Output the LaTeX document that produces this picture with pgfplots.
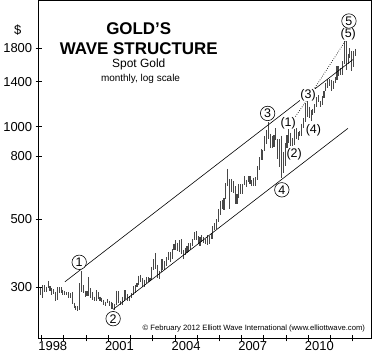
\documentclass[border=0pt]{standalone}
\usepackage{fontspec}
\setmainfont{Liberation Sans}
\usepackage{pgfplots}
\pgfplotsset{compat=1.18}
\usepackage{pgfplotstable}

\pgfplotstableread{
yr m lo hi
1997 12 283 298
1998 1 278 305
1998 2 289 305
1998 3 289 302
1998 4 298 315
1998 5 292 303
1998 6 284 298
1998 7 285 296
1998 8 272 290
1998 9 274 300
1998 10 288 301
1998 11 288 300
1998 12 283 295
1999 1 283 293
1999 2 283 290
1999 3 278 290
1999 4 278 288
1999 5 266 290
1999 6 257 268
1999 7 253 262
1999 8 252 261
1999 9 254 310
1999 10 290 339
1999 11 287 305
1999 12 280 292
2000 1 282 292
2000 2 282 325
2000 3 278 298
2000 4 273 290
2000 5 271 280
2000 6 272 294
2000 7 276 290
2000 8 271 280
2000 9 269 278
2000 10 264 274
2000 11 262 270
2000 12 268 275
2001 1 262 272
2001 2 255 270
2001 3 255 268
2001 4 254 266
2001 5 263 293
2001 6 268 292
2001 7 263 272
2001 8 264 280
2001 9 271 294
2001 10 276 294
2001 11 272 285
2001 12 272 282
2002 1 278 287
2002 2 283 303
2002 3 287 305
2002 4 300 310
2002 5 306 328
2002 6 313 330
2002 7 301 322
2002 8 301 318
2002 9 310 325
2002 10 313 324
2002 11 315 323
2002 12 317 350
2003 1 342 370
2003 2 345 389
2003 3 322 356
2003 4 320 340
2003 5 336 370
2003 6 341 372
2003 7 341 365
2003 8 352 376
2003 9 368 392
2003 10 364 392
2003 11 372 400
2003 12 396 417
2004 1 398 427
2004 2 393 420
2004 3 390 428
2004 4 386 430
2004 5 371 398
2004 6 383 404
2004 7 387 410
2004 8 390 418
2004 9 398 420
2004 10 410 430
2004 11 427 455
2004 12 428 457
2005 1 417 440
2005 2 410 438
2005 3 423 445
2005 4 418 437
2005 5 414 431
2005 6 412 443
2005 7 417 440
2005 8 430 450
2005 9 431 475
2005 10 461 485
2005 11 465 500
2005 12 490 540
2006 1 515 575
2006 2 538 577
2006 3 537 586
2006 4 580 654
2006 5 640 730
2006 6 542 675
2006 7 612 676
2006 8 610 665
2006 9 560 640
2006 10 560 605
2006 11 587 650
2006 12 606 650
2007 1 603 652
2007 2 645 690
2007 3 635 672
2007 4 661 692
2007 5 651 690
2007 6 641 672
2007 7 643 683
2007 8 641 686
2007 9 670 745
2007 10 725 795
2007 11 780 845
2007 12 781 840
2008 1 831 930
2008 2 880 975
2008 3 912 1033
2008 4 855 950
2008 5 850 930
2008 6 860 940
2008 7 906 988
2008 8 786 915
2008 9 740 912
2008 10 681 935
2008 11 705 830
2008 12 746 884
2009 1 800 937
2009 2 888 1006
2009 3 864 956
2009 4 865 920
2009 5 869 982
2009 6 910 990
2009 7 904 961
2009 8 932 970
2009 9 932 1024
2009 10 990 1069
2009 11 1035 1195
2009 12 1075 1227
2010 1 1070 1162
2010 2 1044 1130
2010 3 1088 1138
2010 4 1107 1182
2010 5 1163 1249
2010 6 1205 1266
2010 7 1155 1213
2010 8 1175 1255
2010 9 1240 1311
2010 10 1308 1388
2010 11 1332 1425
2010 12 1360 1432
2011 1 1309 1424
2011 2 1330 1413
2011 3 1383 1447
2011 4 1419 1575
2011 5 1462 1577
2011 6 1478 1555
2011 7 1478 1632
2011 8 1603 1912
2011 9 1535 1921
2011 10 1600 1730
2011 11 1670 1803
2011 12 1523 1764
2012 1 1562 1764
2012 2 1700 1790
}\golddata

\begin{document}
\begin{tikzpicture}
\begin{axis}[
  scale only axis, width=334pt, height=339pt,
  ymode=log, ymin=205, ymax=2576,
  xmin=1997.865, xmax=2012.85,
  clip=false,
  axis line style={line width=0.8pt},
  tick style={black, line width=0.8pt},
  tick align=center,
  major tick length=6pt,
  xtick pos=bottom, ytick pos=left,
  xtick={1998,...,2012}, xticklabels={},
  extra x ticks={1998.5,2001.5,2004.5,2007.5,2010.5},
  extra x tick labels={1998,2001,2004,2007,2010},
  extra x tick style={major tick length=0pt},
  ytick={300,500,800,1000,1400,1800},
  yticklabels={300,500,800,1000,1400,1800},
  /pgf/number format/assume math mode=true,
  tick label style={font=\fontsize{13}{13}\selectfont},
]
\addplot[draw=none, mark=none,
  error bars/.cd, y dir=minus, y explicit, error mark=none,
  error bar style={draw=black!72, line width=1.1pt}]
  table[x expr=\thisrow{yr}+(\thisrow{m}-0.5)/12, y=hi,
        y error expr=\thisrow{hi}-\thisrow{lo}] {\golddata};
% channel lines
\addplot[black, line width=0.6pt, mark=none] coordinates {(1999.045,313) (2012.0,1652)};
\addplot[black, line width=0.6pt, mark=none] coordinates {(2001.217,254.6) (2011.786,988)};
% dotted lines
\addplot[black, line width=0.7pt, dash pattern=on 0.7pt off 1.6pt, mark=none] coordinates {(2009.125,1006) (2009.958,1227)};
\addplot[black, line width=0.7pt, dash pattern=on 0.7pt off 1.6pt, mark=none] coordinates {(2009.958,1227) (2011.708,1921)};

% titles
\node[font=\bfseries\fontsize{17}{17}\selectfont] at (axis cs:2002.37,2088) {GOLD’S};
\node[font=\bfseries\fontsize{17}{17}\selectfont] at (axis cs:2002.37,1799) {WAVE STRUCTURE};
\node[font=\fontsize{12}{12}\selectfont] at (axis cs:2002.37,1596) {Spot Gold};
\node[font=\fontsize{10}{10}\selectfont] at (axis cs:2002.45,1427) {monthly, log scale};
\node[font=\fontsize{7.7}{7.7}\selectfont, anchor=east] at (axis cs:2012.715,221) {© February 2012 Elliott Wave International (www.elliottwave.com)};
\node[font=\fontsize{13}{13}\selectfont] at (axis cs:1996.92,2057) {\$};

% wave labels
\tikzset{wc/.style={circle, draw, line width=0.6pt, fill=white, inner sep=0pt, minimum size=14.5pt, font=\fontsize{12.5}{12.5}\selectfont},
         wp/.style={fill=white, inner sep=0.4pt, font=\fontsize{12.5}{12.5}\selectfont}}
\node[wc] at (axis cs:1999.69,362.3) {1};
\node[wc] at (axis cs:2001.217,237.5) {2};
\node[wc] at (axis cs:2008.17,1104.8) {3};
\node[wc] at (axis cs:2008.81,623.5) {4};
\node[wc] at (axis cs:2011.83,2207) {5};
\node[wp] at (axis cs:2011.8,1996) {(5)};
\node[wp] at (axis cs:2009.99,1266) {(3)};
\node[wp] at (axis cs:2009.095,1030) {(1)};
\node[wp] at (axis cs:2009.364,815.5) {(2)};
\node[wp] at (axis cs:2010.23,975) {(4)};
\end{axis}
\end{tikzpicture}
\end{document}
